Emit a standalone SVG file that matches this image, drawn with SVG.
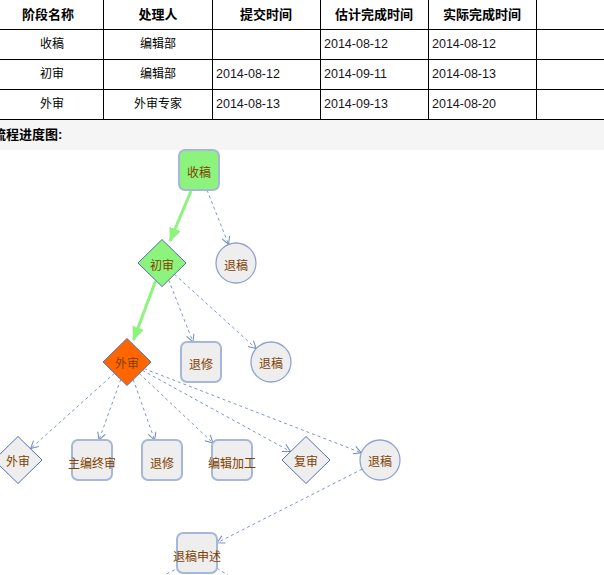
<svg xmlns="http://www.w3.org/2000/svg" width="604" height="575" viewBox="0 0 604 575">
<style>
.th{font-family:"Liberation Sans","Noto Sans CJK SC",sans-serif;font-size:13px;font-weight:bold;fill:#000;text-anchor:middle}
.td{font-family:"Liberation Sans","Noto Sans CJK SC",sans-serif;font-size:12px;fill:#000;text-anchor:middle}
.dt{font-family:"Liberation Sans",sans-serif;font-size:12.5px;fill:#1a1420}
.grid{stroke:#000;stroke-width:1;fill:none}
.lbl{font-family:"Noto Sans CJK SC","Liberation Sans",sans-serif;font-size:12px;fill:#804000;text-anchor:middle;dominant-baseline:central}
.rr{fill:#eeeeee;stroke:#a7b7d9;stroke-width:2}
.ci{fill:#eeeeee;stroke:#8ea2d0;stroke-width:1.3}
.dm{fill:#eeeeee;stroke:#5570b4;stroke-width:1}
.green{fill:#8cf47c}
.dash{stroke:#8096c8;stroke-width:1;stroke-dasharray:3,3;fill:none;marker-end:url(#openArrow)}
.go{stroke:#8cf47c;stroke-width:3;fill:none;marker-end:url(#greenArrow)}
</style>
<defs>
<marker id="greenArrow" viewBox="0 0 14 12" refX="13" refY="6" markerWidth="14" markerHeight="12" markerUnits="userSpaceOnUse" orient="auto">
<path d="M0,0 L14,6 L0,12 z" fill="#8cf47c"/>
</marker>
<marker id="openArrow" viewBox="0 0 9 9" refX="8" refY="4.5" markerWidth="9" markerHeight="9" markerUnits="userSpaceOnUse" orient="auto">
<path d="M0.5,0.5 L8,4.5 L0.5,8.5" fill="none" stroke="#7088c4" stroke-width="1"/>
</marker>
</defs>
<rect x="0" y="0" width="604" height="575" fill="#ffffff"/>
<g id="table">
<rect x="0" y="120" width="604" height="30" fill="#f5f5f5"/>
<path class="grid" d="M0,29.5H604M0,59.5H604M0,89.5H604M0,119.5H604M103.5,0V119M212.5,0V119M320.5,0V119M428.5,0V119M536.5,0V119"/>
<text class="th" x="48" y="19">阶段名称</text>
<text class="th" x="158" y="19">处理人</text>
<text class="th" x="266" y="19">提交时间</text>
<text class="th" x="374" y="19">估计完成时间</text>
<text class="th" x="482" y="19">实际完成时间</text>
<text class="td" x="52" y="48">收稿</text>
<text class="td" x="158" y="48">编辑部</text>
<text class="dt" x="324" y="48">2014-08-12</text>
<text class="dt" x="432" y="48">2014-08-12</text>
<text class="td" x="52" y="78">初审</text>
<text class="td" x="158" y="78">编辑部</text>
<text class="dt" x="216" y="78">2014-08-12</text>
<text class="dt" x="324" y="78">2014-09-11</text>
<text class="dt" x="432" y="78">2014-08-13</text>
<text class="td" x="52" y="108">外审</text>
<text class="td" x="158" y="108">外审专家</text>
<text class="dt" x="216" y="108">2014-08-13</text>
<text class="dt" x="324" y="108">2014-09-13</text>
<text class="dt" x="432" y="108">2014-08-20</text>
<text class="th" x="-7" y="139" style="text-anchor:start">流程进度图:</text>
</g>
<g id="connectors">
<line class="go" x1="191" y1="191" x2="170" y2="241"/>
<line class="go" x1="155.5" y1="281" x2="133.5" y2="340"/>
<line class="dash" x1="207" y1="190" x2="228.6" y2="244.4"/>
<line class="dash" x1="168.7" y1="280" x2="193" y2="342"/>
<line class="dash" x1="174.5" y1="274.3" x2="256.2" y2="348.6"/>
<line class="dash" x1="114.5" y1="373.3" x2="30.6" y2="448.6"/>
<line class="dash" x1="120.8" y1="379.4" x2="99" y2="440"/>
<line class="dash" x1="133.2" y1="379.4" x2="154.6" y2="440"/>
<line class="dash" x1="139.3" y1="373.5" x2="213" y2="443"/>
<line class="dash" x1="142.4" y1="370.4" x2="290.5" y2="451.5"/>
<line class="dash" x1="144.2" y1="368.7" x2="361.3" y2="452.8"/>
<line class="dash" x1="362.2" y1="469.1" x2="217" y2="542.8"/>
<line class="dash" x1="180" y1="567" x2="155" y2="580" style="marker-end:none"/>
<line class="dash" x1="212" y1="565" x2="234" y2="579" style="marker-end:none"/>
</g>
<g id="n-shougao"><rect class="rr green" x="179" y="150" width="40" height="40" rx="6"/><text class="lbl" x="199" y="171">收稿</text></g>
<g id="n-chushen"><polygon class="dm green" points="162,239.5 186,263 162,286.5 138,263"/><text class="lbl" x="162" y="264">初审</text></g>
<g id="n-tuigao1"><circle class="ci" cx="236" cy="263" r="20"/><text class="lbl" x="236" y="264">退稿</text></g>
<g id="n-waishen"><polygon class="dm" style="fill:#ff6600" points="127,338.5 151,362 127,385.5 103,362"/><text class="lbl" x="127" y="362">外审</text></g>
<g id="n-tuixiu1"><rect class="rr" x="181" y="342" width="40" height="40" rx="6"/><text class="lbl" x="201" y="363">退修</text></g>
<g id="n-tuigao2"><circle class="ci" cx="271" cy="362" r="20"/><text class="lbl" x="271" y="362">退稿</text></g>
<g id="n-waishen2"><polygon class="dm" points="18,436.5 42,460 18,483.5 -6,460"/><text class="lbl" x="18" y="460">外审</text></g>
<g id="n-zhubian"><rect class="rr" x="72" y="440" width="40" height="40" rx="6"/><text class="lbl" x="92" y="462">主编终审</text></g>
<g id="n-tuixiu2"><rect class="rr" x="142" y="440" width="40" height="40" rx="6"/><text class="lbl" x="162" y="462">退修</text></g>
<g id="n-bianji"><rect class="rr" x="212" y="440" width="40" height="40" rx="6"/><text class="lbl" x="232" y="462">编辑加工</text></g>
<g id="n-fushen"><polygon class="dm" points="306,436.5 330,460 306,483.5 282,460"/><text class="lbl" x="306" y="460">复审</text></g>
<g id="n-tuigao3"><circle class="ci" cx="380" cy="460" r="20"/><text class="lbl" x="380" y="460">退稿</text></g>
<g id="n-shenshu"><rect class="rr" x="177" y="533" width="40" height="40" rx="6"/><text class="lbl" x="197" y="555">退稿申述</text></g>
</svg>
